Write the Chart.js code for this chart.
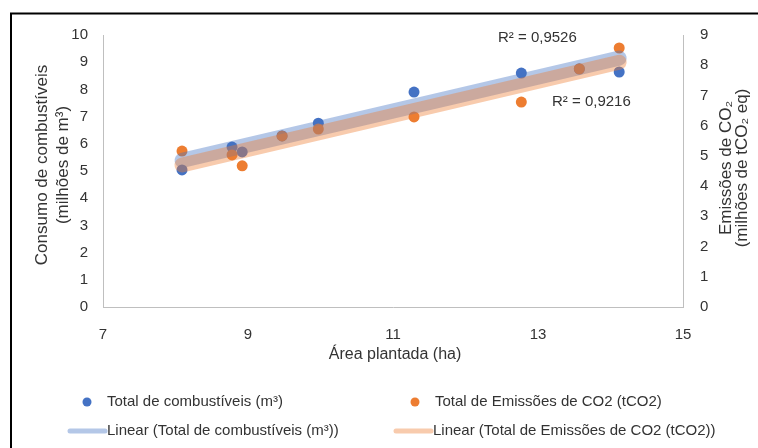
<!DOCTYPE html>
<html><head><meta charset="utf-8">
<script src="https://cdn.jsdelivr.net/npm/chart.js@4/dist/chart.umd.min.js"></script>
<style>html,body{margin:0;padding:0;background:#fff;} canvas{display:block}</style>
</head><body><canvas id="c" width="758" height="448"></canvas>
<script>
// ---- data ----
const areaPlantada = [8.09, 8.78, 8.92, 9.47, 9.97, 11.29, 12.77, 13.57, 14.12];
const combustiveis = [5.04, 5.88, 5.70, 6.29, 6.76, 7.90, 8.60, 8.75, 8.64];
const emissoes     = [5.16, 5.03, 4.67, 5.66, 5.89, 6.29, 6.78, 7.88, 8.57];
const trendX = [8.09, 14.12];
const trendCombustiveis = [5.39, 9.15];
const trendEmissoes = [4.70, 8.10];
const r2Labels = ['R² = 0,9526', 'R² = 0,9216'];
const seriesNames = ['Total de combustíveis (m³)', 'Total de Emissões de CO2 (tCO2)',
  'Linear (Total de combustíveis (m³))', 'Linear (Total de Emissões de CO2 (tCO2))'];
const xTitle = 'Área plantada (ha)';
const yTitle = ['Consumo de combustíveis', '(milhões de m³)'];
const y1Title = ['Emissões de CO₂', '(milhões de tCO₂ eq)'];

const BLUE = '#4472C4', ORANGE = '#ED7D31';
const BLUE_T = 'rgba(68,114,196,0.4)', ORANGE_T = 'rgba(237,125,49,0.4)';
const TXT = '#333333';
const FONT = '"Liberation Sans", Arial, sans-serif';

const pts = (xs, ys) => xs.map((x, i) => ({x, y: ys[i]}));

const decor = {
  id: 'decor',
  afterDraw(chart) {
    const ctx = chart.ctx;
    const xs = chart.scales.x;
    ctx.save();
    // outer frame
    ctx.strokeStyle = '#000'; ctx.lineWidth = 2;
    ctx.strokeRect(11, 13.5, 900, 900);
    ctx.fillStyle = TXT;
    // axis titles
    ctx.font = '17px ' + FONT;
    ctx.textAlign = 'center'; ctx.textBaseline = 'middle';
    const drawRot = (lines, cx, cy, gap) => {
      ctx.save(); ctx.translate(cx, cy); ctx.rotate(-Math.PI / 2);
      lines.forEach((t, i) => ctx.fillText(t, 0, i * gap));
      ctx.restore();
    };
    drawRot(yTitle, 42, 165, 21);
    drawRot(y1Title, 726, 168, 16);
    ctx.font = '16px ' + FONT;
    ctx.fillText(xTitle, (xs.left + xs.right) / 2 + 2, 355);
    // R² labels
    ctx.font = '15px ' + FONT;
    ctx.textAlign = 'left';
    ctx.fillText(r2Labels[0], 498, 38);
    ctx.fillText(r2Labels[1], 552, 102);
    // legend
    const items = [
      {kind: 'dot', color: BLUE, x: 87, y: 402, text: seriesNames[0]},
      {kind: 'dot', color: ORANGE, x: 415, y: 402, text: seriesNames[1]},
      {kind: 'line', color: BLUE_T, x: 70, y: 431, text: seriesNames[2]},
      {kind: 'line', color: ORANGE_T, x: 396, y: 431, text: seriesNames[3]},
    ];
    items.forEach(it => {
      let tx;
      if (it.kind === 'dot') {
        ctx.beginPath(); ctx.fillStyle = it.color;
        ctx.arc(it.x, it.y, 4.5, 0, Math.PI * 2); ctx.fill();
        tx = it.x + 20;
      } else {
        ctx.strokeStyle = it.color; ctx.lineWidth = 5; ctx.lineCap = 'round';
        ctx.beginPath(); ctx.moveTo(it.x, it.y); ctx.lineTo(it.x + 35, it.y); ctx.stroke();
        tx = it.x + 37;
      }
      ctx.fillStyle = TXT; ctx.textAlign = 'left'; ctx.textBaseline = 'middle';
      ctx.fillText(it.text, tx, it.y);
    });
    ctx.restore();
  }
};

new Chart(document.getElementById('c'), {
  type: 'scatter',
  data: {
    datasets: [
      {label: seriesNames[3], type: 'line', data: pts(trendX, trendEmissoes), yAxisID: 'y1',
       borderColor: ORANGE_T, borderWidth: 15, borderCapStyle: 'round', pointRadius: 0, fill: false, order: 0},
      {label: seriesNames[2], type: 'line', data: pts(trendX, trendCombustiveis), yAxisID: 'y',
       borderColor: BLUE_T, borderWidth: 15, borderCapStyle: 'round', pointRadius: 0, fill: false, order: 1},
      {label: seriesNames[1], data: pts(areaPlantada, emissoes), yAxisID: 'y1',
       backgroundColor: ORANGE, borderColor: ORANGE, pointRadius: 5.5, borderWidth: 0, order: 2},
      {label: seriesNames[0], data: pts(areaPlantada, combustiveis), yAxisID: 'y',
       backgroundColor: BLUE, borderColor: BLUE, pointRadius: 5.5, borderWidth: 0, order: 3},
    ]
  },
  options: {
    responsive: false, animation: false, devicePixelRatio: 1,
    layout: {padding: {top: 35, left: 0, right: 0, bottom: 0}},
    plugins: {legend: {display: false}, tooltip: {enabled: false}},
    scales: {
      x: {type: 'linear', min: 7, max: 15,
          ticks: {stepSize: 2, color: TXT, font: {size: 15, family: FONT}, padding: 11},
          grid: {display: false}, border: {display: true, color: '#bfbfbf', width: 1},
          afterFit(s) { s.height = 141; }},
      y: {type: 'linear', position: 'left', min: 0, max: 10,
          ticks: {stepSize: 1, color: TXT, font: {size: 15, family: FONT}, padding: 7},
          grid: {display: false}, border: {display: true, color: '#bfbfbf', width: 1},
          afterFit(s) { s.width = 103; }},
      y1: {type: 'linear', position: 'right', min: 0, max: 9,
          ticks: {stepSize: 1, color: TXT, font: {size: 15, family: FONT}, padding: 9},
          grid: {display: false}, border: {display: true, color: '#bfbfbf', width: 1},
          afterFit(s) { s.width = 75; }},
    }
  },
  plugins: [decor]
});
</script></body></html>
